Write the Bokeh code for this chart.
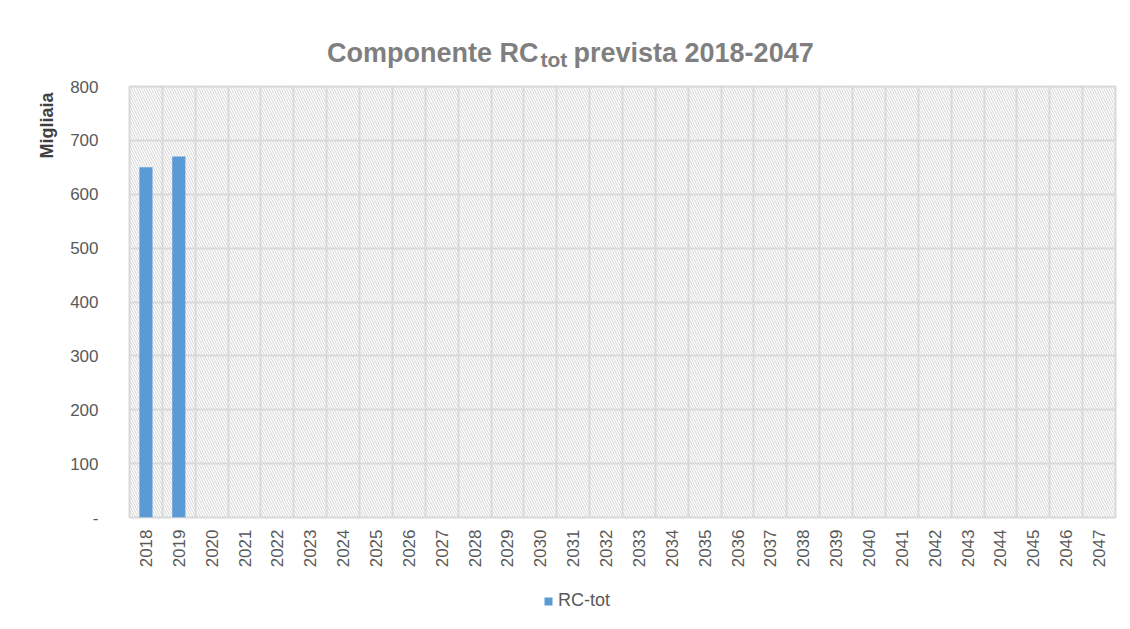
import math
from bokeh.plotting import figure
from bokeh.layouts import column
from bokeh.models import (FactorRange, Range1d, FixedTicker, Title,
                          BoxAnnotation, Label, Legend, LegendItem, ColumnDataSource)
from bokeh.embed import file_html
from bokeh.resources import INLINE

years = ["2018", "2019", "2020", "2021", "2022", "2023", "2024", "2025", "2026", "2027",
         "2028", "2029", "2030", "2031", "2032", "2033", "2034", "2035", "2036", "2037",
         "2038", "2039", "2040", "2041", "2042", "2043", "2044", "2045", "2046", "2047"]
bar_years = ["2018", "2019"]
rc_tot = [650, 670]
y_ticks = [0, 100, 200, 300, 400, 500, 600, 700, 800]

FONT = "Liberation Sans"
GRID = "#d9d9d9"
TXT = "#595959"
BAR = "#5b9bd5"
W = 1128
LEFT, RIGHT = 129, 13


def strip(h):
    f = figure(width=W, height=h, x_range=Range1d(0, 1), y_range=Range1d(0, 1),
               output_backend="svg", toolbar_location=None,
               x_axis_location=None, y_axis_location=None,
               min_border_left=LEFT, min_border_right=RIGHT,
               min_border_top=0, min_border_bottom=0)
    f.outline_line_color = None
    f.grid.visible = False
    return f


# ---- title strip (screen units: from frame left / frame bottom)
tfig = strip(70)
title_style = dict(x_units="screen", y_units="screen", text_font=FONT, text_font_style="bold",
                   text_color="#7f7f7f", text_baseline="alphabetic")
tfig.add_layout(Label(x=538 - LEFT, y=18, text="Componente RC", text_align="right",
                      text_font_size="27px", **title_style))
tfig.add_layout(Label(x=540 - LEFT, y=11, text="tot", text_align="left",
                      text_font_size="21px", **title_style))
tfig.add_layout(Label(x=573 - LEFT, y=18, text="prevista 2018-2047", text_align="left",
                      text_font_size="27px", **title_style))

# ---- main chart
p = figure(width=W, height=510, x_range=FactorRange(*years), y_range=Range1d(0, 800),
           output_backend="svg", toolbar_location=None,
           min_border_left=LEFT, min_border_right=RIGHT, min_border_top=16, min_border_bottom=63)

bg = BoxAnnotation(fill_color="white", fill_alpha=0, hatch_pattern="left_diagonal_line",
                   hatch_color="#d4d4d4", hatch_scale=5, hatch_weight=1, line_color=None,
                   level="image")
p.add_layout(bg)

src = ColumnDataSource(dict(x=bar_years, top=rc_tot))
p.vbar(x="x", top="top", width=0.4, source=src, fill_color=BAR, line_color=None)

p.outline_line_color = GRID
p.outline_line_width = 2
p.xgrid.ticker = FixedTicker(ticks=list(range(len(years) + 1)))
p.xgrid.grid_line_color = GRID
p.xgrid.grid_line_width = 2
p.ygrid.grid_line_color = GRID
p.ygrid.grid_line_width = 2

p.yaxis.ticker = FixedTicker(ticks=y_ticks)
p.yaxis.major_label_overrides = {0: "-"}
p.yaxis.axis_line_color = None
p.yaxis.major_tick_line_color = None
p.yaxis.minor_tick_line_color = None
p.yaxis.major_tick_out = 0
p.yaxis.major_label_standoff = 31
p.yaxis.major_label_text_font = FONT
p.yaxis.major_label_text_font_size = "17px"
p.yaxis.major_label_text_color = TXT

p.xaxis.axis_line_color = None
p.xaxis.major_tick_line_color = None
p.xaxis.major_tick_out = 0
p.xaxis.major_label_orientation = math.pi / 2
p.xaxis.major_label_standoff = 12
p.xaxis.major_label_text_font = FONT
p.xaxis.major_label_text_font_size = "17px"
p.xaxis.major_label_text_color = TXT

p.add_layout(Title(text="Migliaia", align="right", offset=6, standoff=22,
                   text_font=FONT, text_font_style="bold", text_font_size="18px",
                   text_color="#404040"), "left")

# ---- legend strip (hidden twin of the bar renderer supplies the legend swatch)
bfig = strip(47)
lr = bfig.vbar(x="x", top="top", width=0.4, source=src, fill_color=BAR, line_color=None,
               visible=False)
legend = Legend(items=[LegendItem(label="RC-tot", renderers=[lr])], location=(543 - LEFT, 16),
                orientation="horizontal", padding=0, margin=0, border_line_color=None,
                background_fill_alpha=0, glyph_width=10, glyph_height=10, label_height=20,
                label_text_font=FONT, label_text_font_size="18px", label_text_color=TXT,
                label_standoff=5, click_policy="none")
bfig.add_layout(legend)

layout = column(tfig, p, bfig, spacing=0)
open("out.html", "w").write(file_html(layout, INLINE))
